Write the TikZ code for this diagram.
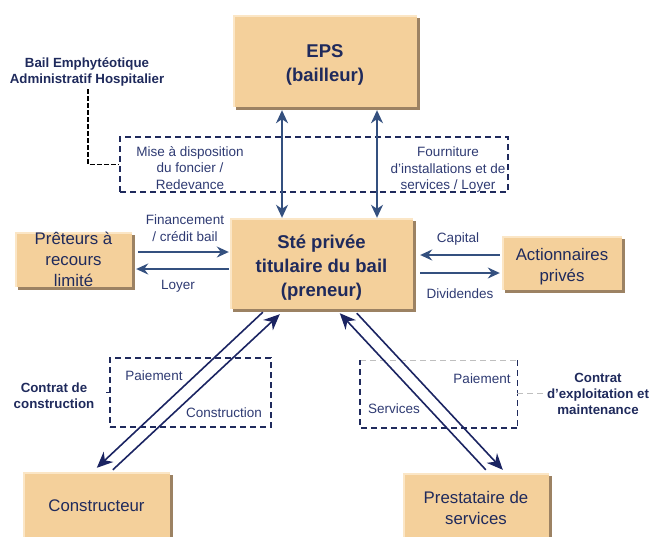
\documentclass[tikz,border=0pt]{standalone}
\usepackage{fontspec}
\setmainfont{Liberation Sans}
\usetikzlibrary{arrows.meta,shadows,calc}
\definecolor{boxfill}{HTML}{F4D09B}
\definecolor{boxshadow}{HTML}{9C8263}
\definecolor{boxlight}{HTML}{FBE6C6}
\definecolor{navy}{HTML}{1F2A5C}
\definecolor{labelc}{HTML}{2E3A72}
\definecolor{arrowc}{HTML}{34507F}
\definecolor{diagc}{HTML}{1B2462}
\definecolor{grayd}{HTML}{BFBFBF}
\begin{document}
\begin{tikzpicture}[x=1pt,y=-1pt,
  box/.style={fill=boxfill, draw=none, inner sep=0pt, text=navy, align=center,
    drop shadow={shadow xshift=3pt, shadow yshift=-3pt, fill=boxshadow, opacity=1},
    path picture={\draw[boxlight,line width=3pt] (path picture bounding box.south west) -- (path picture bounding box.north west) -- (path picture bounding box.north east);}},
  bigtxt/.style={text=navy, align=center, inner sep=0pt, font=\fontsize{18.5}{24}\selectfont\bfseries},
  midtxt/.style={font=\fontsize{16.8}{21}\selectfont},
  midlbl/.style={text=navy, align=center, inner sep=0pt, font=\fontsize{16.8}{21}\selectfont},
  lbl/.style={text=labelc, align=center, inner sep=0pt, font=\fontsize{13.5}{16.5}\selectfont},
  blbl/.style={text=navy, align=center, inner sep=0pt, font=\fontsize{13.3}{16}\selectfont\bfseries},
  dbox/.style={draw=navy, line width=1.8pt, dash pattern=on 6pt off 4pt, inner sep=0pt},
  harr/.style={draw=arrowc, line width=1.6pt, -{Stealth[length=12pt,width=11pt,inset=4pt]}},
  varr/.style={draw=arrowc, line width=1.6pt, {Stealth[length=13pt,width=12pt,inset=4pt]}-{Stealth[length=13pt,width=12pt,inset=4pt]}},
  darr/.style={draw=diagc, line width=1.6pt, -{Stealth[length=16pt,width=14pt,inset=5pt]}}
]
\clip (0,0) rectangle (652,536);
\useasboundingbox (0,0) rectangle (652,536);

% boxes
\node[box, minimum width=184pt, minimum height=92pt] (eps) at (325,61) {};
\node[bigtxt] (epst) at ($(eps.center)+(0,4)$) {EPS\\(bailleur)};
\node[box, minimum width=183pt, minimum height=91pt] (ste) at (321.5,263.5) {};
\node[bigtxt] (stet) at ($(ste.center)+(0,4)$) {Sté privée\\titulaire du bail\\(preneur)};
\node[box, midtxt, minimum width=117pt, minimum height=53pt] (pret) at (73.5,259.5) {Prêteurs à\\recours\\limité};
\node[box, minimum width=120pt, minimum height=54pt] (act) at (562,263) {};
\node[midlbl] (actt) at ($(act.center)+(0,4)$) {Actionnaires\\privés};
\node[box, midtxt, minimum width=147pt, minimum height=68pt] (con) at (96.5,506) {Constructeur};
\node[box, midtxt, minimum width=146pt, minimum height=70pt] (pre) at (476,508) {Prestataire de\\services};

% dashed grouping boxes
\node[dbox, minimum width=388pt, minimum height=55pt] (box1) at (314,164.5) {};
\node[dbox, minimum width=161pt, minimum height=69pt] (lbox) at (190.5,392.5) {};
\coordinate (rtl) at (360,360);
\coordinate (rtr) at (517,360);
\coordinate (rbr) at (517,428);
\coordinate (rbl) at (360,428);
\draw[grayd, line width=0.8pt, dash pattern=on 6pt off 4pt] (rtl) -- (rtr);
\draw[navy, line width=0.9pt, dash pattern=on 6pt off 4pt] (rtr) -- (rbr);
\draw[navy, line width=1.8pt, dash pattern=on 6pt off 4pt] (rbr) -- (rbl) -- (rtl);

% texts in dashed box 1
\node[lbl] (mise) at (190,168) {Mise à disposition\\du foncier /\\Redevance};
\node[lbl] (fourn) at (448,170) {Fourniture\\d'installations et de\\services / Loyer};

% labels
\node[blbl] (bail) at (87,72) {Bail Emphytéotique\\Administratif Hospitalier};
\draw[black, line width=1.5pt, dash pattern=on 5pt off 2pt] ($(bail.south)+(1,3)$) |- (box1.west);

\node[lbl] (fin) at (185,228) {Financement\\/ crédit bail};
\node[lbl] (loy) at (178,286) {Loyer};
\node[lbl] (cap) at (458,239) {Capital};
\node[lbl] (div) at (460,294) {Dividendes};

\node[blbl] (ccon) at (54,396) {Contrat de\\construction};
\node[lbl] (pai1) at (154,376) {Paiement};
\node[lbl] (cons) at (224,413) {Construction};
\draw[navy, line width=0.6pt] (lbox.west) -- ++(-3,0);

\node[blbl] (cexp) at (598,394) {Contrat\\d'exploitation et\\maintenance};
\node[lbl] (pai2) at (482,379) {Paiement};
\node[lbl] (serv) at (394,409) {Services};
\coordinate (rmid) at (517,393);
\draw[grayd, line width=0.8pt, dash pattern=on 6pt off 4pt] (rmid) -- (cexp.west |- rmid);

% vertical arrows
\coordinate (v1) at (282,0);
\coordinate (v2) at (377,0);
\draw[varr, shorten <=3pt] (eps.south -| v1) -- (ste.north -| v1);
\draw[varr, shorten <=3pt] (eps.south -| v2) -- (ste.north -| v2);

% horizontal arrows
\coordinate (hf) at (0,252);
\coordinate (hl) at (0,269);
\coordinate (hc) at (0,255);
\coordinate (hd) at (0,273);
\draw[harr, shorten <=6pt, shorten >=1pt] (pret.east |- hf) -- (ste.west |- hf);
\draw[harr, shorten >=4pt, shorten <=1pt] (ste.west |- hl) -- (pret.east |- hl);
\draw[harr, shorten <=2pt, shorten >=7pt] (act.west |- hc) -- (ste.east |- hc);
\draw[harr, shorten <=7pt, shorten >=2pt] (ste.east |- hd) -- (act.west |- hd);

% diagonal arrows (construction)
\draw[darr] ($(ste.south west)+(33,3)$) -- ($(con.north west)+(74,-4)$);
\draw[darr] ($(con.north west)+(90,-2)$) -- ($(ste.south west)+(50,5)$);
% diagonal arrows (services)
\draw[darr] ($(pre.north west)+(83,-3)$) -- ($(ste.south west)+(110,4)$);
\draw[darr] ($(ste.south west)+(127,4)$) -- ($(pre.north west)+(100,-3)$);
\end{tikzpicture}
\end{document}
